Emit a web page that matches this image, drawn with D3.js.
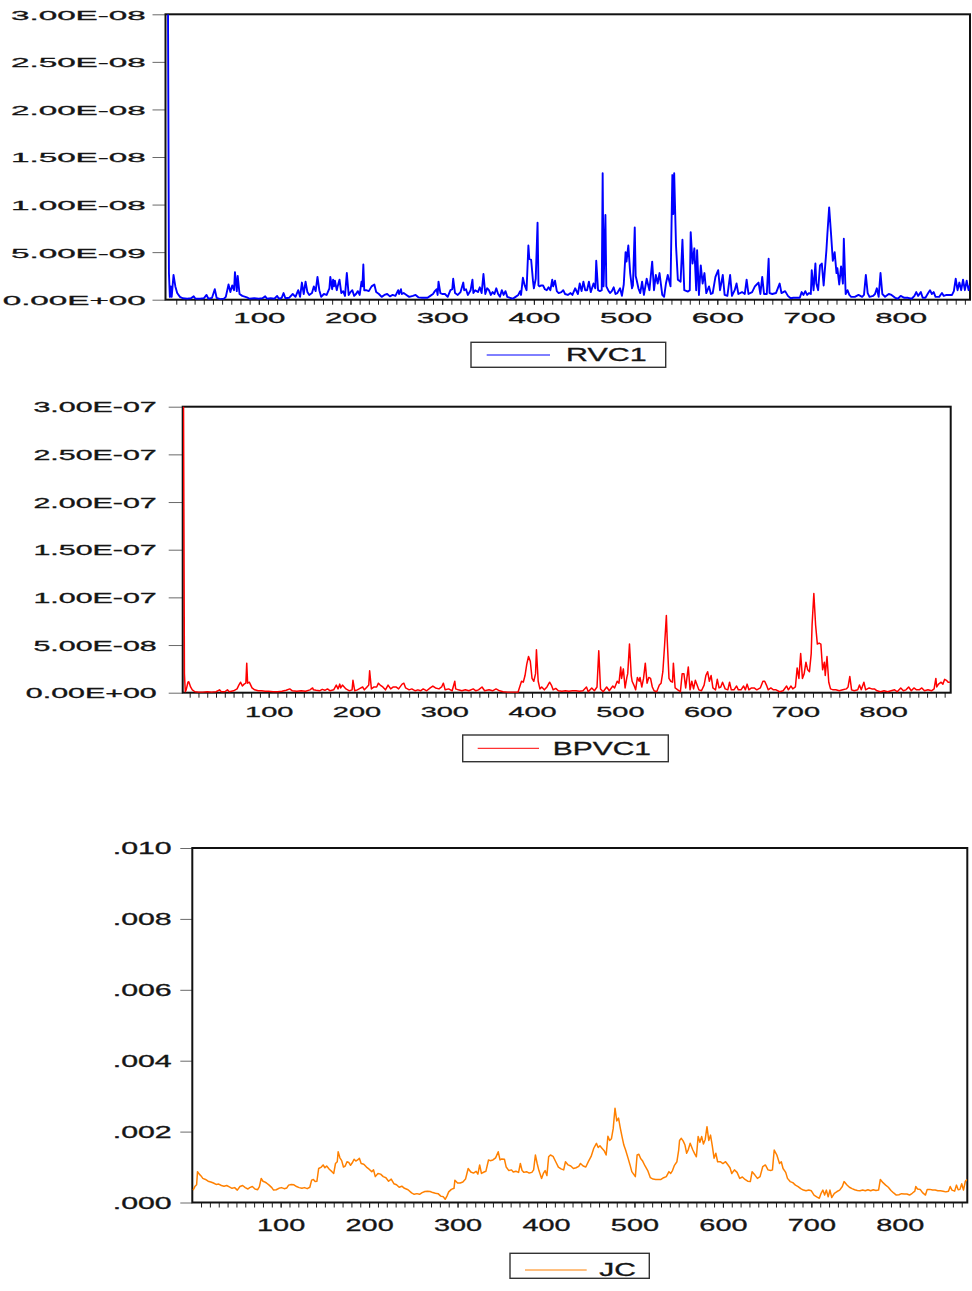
<!DOCTYPE html>
<html>
<head>
<meta charset="utf-8">
<script src="https://cdn.jsdelivr.net/npm/d3@7"></script>
<style>
    body { margin: 0; background: #fff; }
    svg text { font-family: "Liberation Sans", Arial, sans-serif; fill: #151515; stroke: #151515; stroke-width: 0.3px; }
</style>
</head>
<body>
<svg id="chart" width="972" height="1291"></svg>
<script>
// RVC1 values in units of 1e-9
const rvc1Unit = 1e-9;
const rvc1 = [[1,30],[2,2.8],[3,0.3],[4,1.4],[5,0.3],[7,2.6],[9,1.4],[11,0.7],[14,0.3],[17,0.15],[22,0.1],[26,0.15],[29,0.35],[31,0.1],[36,0.1],[40,0.15],[43,0.5],[45,0.1],[49,0.2],[52,1.1],[54,0.2],[58,0.05],[62,0.1],[64,0.3],[67,1.6],[69,0.8],[71,1.5],[73,1.0],[74,2.9],[76,0.9],[77,2.5],[79,0.6],[82,0.4],[87,0.25],[90,0.1],[95,0.15],[100,0.1],[104,0.15],[107,0.35],[109,0.1],[113,0.15],[117,0.1],[120,0.4],[122,0.1],[125,0.2],[127,0.7],[129,0.15],[133,0.2],[137,0.6],[140,0.3],[143,1.0],[145,0.3],[147,1.8],[149,0.6],[151,1.9],[153,0.8],[155,0.5],[158,0.7],[160,1.4],[162,0.9],[164,2.4],[166,1.0],[168,0.3],[171,0.6],[174,0.5],[177,1.2],[178,2.4],[180,1.1],[181,2.1],[182,1.4],[183,2.0],[185,1.0],[186,1.4],[188,2.1],[190,0.7],[192,0.9],[194,0.4],[196,2.8],[198,0.5],[200,0.8],[202,1.0],[204,0.4],[206,0.6],[208,0.9],[210,0.5],[212,1.9],[213,1.4],[214,3.7],[215,1.0],[217,1.0],[220,0.9],[223,1.4],[226,1.6],[228,0.8],[231,0.6],[234,0.3],[237,0.5],[240,0.6],[243,0.35],[246,0.5],[249,0.4],[252,1.0],[253,0.6],[255,1.1],[256,0.6],[258,0.7],[261,0.5],[264,0.3],[268,0.4],[271,0.5],[274,0.25],[278,0.2],[281,0.2],[284,0.2],[287,0.4],[290,0.6],[292,0.9],[294,1.1],[295,0.5],[296,1.9],[298,0.7],[300,0.6],[303,0.6],[306,0.3],[309,1.0],[311,1.1],[312,2.2],[314,0.7],[317,0.5],[320,0.8],[323,1.8],[324,1.0],[326,1.1],[328,0.5],[331,1.0],[333,2.1],[334,0.7],[336,1.0],[339,0.8],[341,1.3],[343,0.7],[345,2.7],[347,0.6],[349,1.2],[351,1.0],[353,0.5],[355,0.8],[357,0.6],[359,1.2],[361,0.6],[363,0.3],[365,1.0],[367,0.5],[369,0.9],[371,0.3],[374,0.2],[377,0.1],[380,0.3],[383,0.5],[385,0.9],[386,0.5],[388,2.3],[390,1.5],[392,1.0],[394,5.7],[395,4.3],[397,4.2],[399,2.0],[400,1.2],[402,2.2],[404,8.1],[405,1.5],[406,1.4],[408,1.5],[410,1.5],[412,1.1],[414,1.0],[416,1.3],[418,1.0],[420,2.1],[421,1.4],[423,2.0],[425,0.9],[427,0.7],[430,0.8],[432,1.0],[434,0.6],[437,0.5],[440,0.7],[442,0.5],[445,1.2],[448,0.6],[450,1.7],[452,0.9],[454,1.9],[456,1.0],[458,1.0],[460,1.9],[462,0.8],[465,1.7],[467,1.2],[468,4.1],[470,1.0],[472,0.9],[474,1.0],[475,13.3],[476,1.4],[478,8.9],[479,1.4],[481,1.0],[483,0.7],[485,0.9],[487,1.3],[489,0.6],[491,0.7],[494,1.2],[496,0.4],[498,1.6],[500,5.0],[501,4.0],[503,5.7],[505,2.8],[507,1.2],[508,1.5],[510,7.6],[511,2.5],[512,2.1],[514,1.2],[516,0.7],[518,1.9],[520,0.5],[523,2.2],[526,1.0],[529,4.0],[531,1.0],[533,2.6],[535,1.7],[537,2.8],[540,0.5],[542,0.3],[544,1.7],[546,2.6],[549,1.4],[551,13.1],[552,9.0],[553,13.3],[555,5.7],[557,2.1],[560,1.9],[562,6.3],[564,1.0],[568,0.85],[570,1.0],[571,7.1],[573,3.8],[575,5.4],[577,1.0],[578,5.2],[580,0.5],[582,3.6],[584,1.7],[586,2.8],[588,0.7],[591,1.4],[593,0.6],[595,0.7],[598,2.4],[601,3.1],[603,1.0],[606,2.6],[608,0.5],[611,0.4],[614,2.6],[616,0.4],[619,1.0],[621,1.7],[623,0.6],[627,0.8],[630,0.6],[632,2.1],[634,0.6],[638,0.8],[641,1.4],[643,1.6],[645,1.8],[647,0.6],[649,2.4],[651,0.6],[654,0.6],[656,4.3],[657,0.7],[660,0.6],[664,0.7],[666,1.2],[668,1.7],[670,0.7],[674,0.9],[677,0.4],[680,0.15],[683,0.2],[686,0.2],[690,0.2],[692,0.8],[694,0.5],[696,0.9],[698,0.5],[700,0.7],[702,0.6],[703,3.1],[705,1.0],[707,3.8],[708,1.7],[710,1.0],[712,3.6],[714,3.8],[716,1.5],[719,5.2],[720,6.8],[722,9.7],[724,7.0],[726,4.1],[728,5.0],[730,2.8],[731,3.3],[733,1.6],[735,3.5],[737,1.7],[738,6.4],[740,0.6],[742,1.0],[744,0.5],[746,0.3],[750,0.3],[754,0.5],[758,0.3],[760,0.5],[762,2.6],[764,0.7],[766,0.3],[770,0.4],[772,0.6],[774,1.2],[776,0.3],[778,2.8],[780,0.6],[783,0.3],[787,0.6],[790,0.5],[794,0.2],[797,0.1],[800,0.4],[804,0.2],[808,0.2],[812,0.1],[815,0.4],[817,0.8],[819,0.4],[822,0.8],[824,0.2],[827,0.2],[830,0.7],[832,1.0],[834,0.6],[836,0.8],[838,0.3],[842,0.3],[845,0.7],[847,0.4],[850,0.5],[853,0.5],[856,0.5],[858,0.9],[860,2.2],[862,1.0],[864,1.8],[866,1.0],[868,2.1],[870,1.0],[872,2.0],[874,1.0],[875,1.5]];

// BPVC1 values in units of 1e-8
const bpvc1Unit = 1e-8;
const bpvc1 = [[2,30],[3,30],[4,2.0],[5,0.1],[6,0.3],[8,1.1],[9,1.15],[11,0.6],[13,0.3],[16,0.1],[20,0.05],[25,0.05],[30,0.1],[35,0.05],[40,0.1],[44,0.3],[46,0.1],[50,0.1],[53,0.3],[55,0.1],[60,0.2],[64,0.4],[66,0.8],[68,1.1],[70,0.7],[72,0.9],[74,1.0],[75,3.1],[76,1.0],[78,1.1],[79,0.9],[81,0.5],[84,0.3],[88,0.2],[92,0.2],[96,0.15],[100,0.15],[105,0.1],[110,0.1],[115,0.15],[120,0.25],[124,0.4],[127,0.2],[132,0.15],[137,0.2],[142,0.15],[147,0.3],[150,0.5],[151,0.3],[154,0.25],[158,0.2],[161,0.35],[164,0.25],[167,0.4],[170,0.2],[174,0.3],[177,0.8],[179,0.4],[181,0.9],[182,0.5],[184,0.8],[186,0.6],[188,0.4],[192,0.2],[195,0.3],[196,1.3],[198,0.2],[201,0.3],[204,0.45],[207,0.6],[209,0.3],[212,0.6],[214,0.8],[215,2.3],[217,0.4],[220,0.6],[223,0.6],[225,1.0],[227,0.8],[230,0.6],[233,0.3],[236,0.8],[239,0.4],[242,0.6],[245,0.6],[248,0.4],[252,0.9],[254,1.0],[256,0.5],[260,0.3],[263,0.4],[267,0.2],[270,0.3],[273,0.2],[276,0.4],[280,0.2],[284,0.5],[287,0.7],[290,0.5],[294,0.4],[297,0.6],[299,1.0],[301,0.3],[305,0.4],[309,0.2],[312,1.2],[313,0.4],[316,0.3],[320,0.2],[324,0.3],[328,0.2],[333,0.4],[336,0.2],[339,0.3],[343,0.6],[346,0.2],[351,0.3],[355,0.2],[359,0.4],[363,0.2],[367,0.1],[372,0.05],[378,0.05],[384,0.05],[388,1.2],[390,1.1],[392,1.8],[394,3.0],[396,3.8],[398,3.3],[400,1.5],[402,1.2],[404,2.0],[405,4.5],[407,1.2],[409,0.4],[411,0.6],[414,0.3],[417,0.6],[420,1.1],[422,0.8],[424,0.3],[427,0.45],[430,0.2],[434,0.15],[438,0.2],[442,0.15],[446,0.2],[450,0.2],[454,0.15],[458,0.2],[462,0.6],[464,0.1],[468,0.5],[471,0.2],[474,0.6],[476,4.4],[478,0.4],[481,0.1],[485,0.6],[488,0.2],[492,0.7],[494,0.5],[497,1.2],[499,1.0],[501,2.7],[502,1.5],[504,2.5],[506,0.5],[508,1.6],[509,2.0],[511,5.1],[513,1.8],[514,1.2],[516,0.8],[518,0.3],[520,1.6],[522,1.2],[523,1.6],[525,0.6],[527,1.5],[529,3.1],[531,1.0],[533,1.6],[535,1.5],[537,0.6],[539,0.2],[542,0.1],[545,0.8],[547,1.0],[549,2.2],[551,5.0],[553,8.1],[554,5.5],[556,1.5],[558,1.2],[560,1.1],[561,3.1],[563,0.5],[566,0.3],[569,0.1],[571,2.0],[573,2.0],[575,0.5],[578,2.7],[580,0.3],[582,1.2],[584,0.4],[586,1.3],[588,0.8],[590,0.3],[593,0.2],[596,0.8],[598,1.8],[600,2.2],[602,1.2],[604,1.8],[606,0.5],[609,0.3],[611,1.4],[613,0.5],[615,0.6],[617,1.1],[620,0.4],[623,0.3],[625,1.1],[627,0.3],[630,0.3],[633,0.7],[635,0.3],[638,0.3],[641,0.7],[643,0.3],[645,0.9],[647,0.3],[650,0.5],[653,0.5],[656,0.3],[660,0.5],[663,1.2],[665,1.2],[667,0.8],[669,0.3],[672,0.5],[675,0.3],[678,0.3],[682,0.1],[686,0.2],[690,0.7],[692,0.3],[695,0.7],[697,0.4],[700,0.6],[702,2.6],[704,1.5],[706,4.1],[708,1.5],[710,2.0],[712,3.2],[714,2.4],[716,2.2],[718,4.1],[719,7.1],[721,10.4],[723,7.1],[725,5.1],[727,5.2],[729,5.1],[731,2.4],[733,3.2],[734,1.8],[736,3.8],[738,1.1],[740,0.4],[743,0.3],[746,0.3],[750,0.2],[754,0.3],[758,0.4],[760,0.6],[762,1.7],[764,0.3],[767,0.2],[771,0.3],[773,0.8],[775,0.3],[778,1.1],[780,0.3],[784,0.5],[787,0.4],[790,0.4],[793,0.2],[797,0.1],[801,0.2],[805,0.1],[809,0.2],[813,0.3],[816,0.1],[820,0.5],[823,0.2],[826,0.3],[829,0.6],[832,0.2],[835,0.5],[838,0.3],[841,0.3],[844,0.5],[847,0.2],[851,0.3],[855,0.2],[858,0.4],[860,1.5],[861,0.6],[863,0.9],[866,1.1],[868,0.9],[870,1.4],[872,1.3],[874,1.1],[876,1.1]];

// JC values in units of 1e-4
const jcUnit = 1e-4;
const jc = [[1,3.5],[3,4.5],[5,5.0],[6,8.7],[8,8.0],[10,7.5],[12,6.8],[15,6.5],[18,6.0],[21,5.8],[24,5.5],[27,5.1],[30,5.2],[33,4.8],[36,4.6],[39,4.8],[42,4.4],[45,4.0],[48,4.2],[51,3.5],[54,4.5],[57,4.8],[60,4.2],[63,3.8],[65,4.2],[68,4.5],[71,3.8],[74,3.6],[76,4.5],[78,6.8],[80,6.0],[82,5.8],[84,5.5],[87,4.9],[90,4.2],[92,3.5],[95,3.6],[98,4.0],[101,4.2],[104,3.9],[107,4.1],[109,4.9],[112,5.1],[115,5.0],[118,4.5],[121,4.2],[124,4.0],[127,4.2],[130,3.9],[133,4.3],[135,6.3],[137,6.5],[139,5.9],[141,6.0],[143,9.6],[146,10.0],[148,10.6],[150,9.8],[152,10.3],[155,9.4],[158,8.7],[160,8.2],[162,11.0],[164,11.5],[165,14.3],[167,12.6],[169,11.8],[171,10.0],[173,10.3],[175,11.5],[177,11.3],[179,10.5],[181,11.2],[183,12.2],[185,11.7],[187,12.0],[189,12.5],[191,11.0],[194,10.8],[197,10.0],[200,9.4],[203,8.7],[205,9.2],[207,7.3],[210,8.2],[213,8.0],[216,7.3],[219,7.0],[222,6.0],[225,6.6],[228,5.3],[231,5.0],[234,4.3],[237,4.6],[240,4.0],[244,3.6],[248,2.7],[251,2.3],[254,2.5],[257,2.3],[260,2.8],[263,3.1],[266,3.2],[269,3.1],[272,2.8],[275,2.6],[278,2.5],[281,1.8],[284,1.6],[286,0.9],[288,1.8],[290,3.0],[293,3.7],[296,4.0],[297,6.3],[300,5.5],[303,5.5],[306,5.8],[309,6.6],[312,9.6],[315,8.6],[318,8.3],[321,8.8],[323,8.0],[325,10.6],[327,8.2],[330,8.6],[332,8.8],[335,12.0],[337,11.8],[340,12.0],[343,12.6],[346,14.3],[348,12.0],[350,12.3],[353,12.2],[355,10.0],[358,9.0],[361,9.2],[363,8.6],[366,8.8],[369,8.5],[371,11.0],[373,9.0],[375,8.5],[378,8.7],[381,8.3],[384,8.5],[386,9.2],[388,13.4],[390,11.0],[392,9.0],[395,6.8],[397,8.2],[399,9.0],[401,7.6],[403,12.9],[405,13.4],[408,13.0],[411,11.5],[414,10.0],[417,9.5],[420,9.2],[422,11.5],[425,10.6],[428,10.3],[431,9.6],[434,9.8],[437,10.2],[439,11.0],[442,10.3],[445,10.0],[448,11.6],[451,13.0],[454,15.3],[457,16.7],[459,15.5],[461,16.0],[463,15.4],[466,14.5],[468,13.4],[470,18.7],[472,17.5],[474,18.0],[476,20.9],[478,26.6],[480,23.0],[482,23.8],[484,21.0],[486,18.5],[488,16.2],[490,14.8],[493,12.3],[495,10.6],[497,8.7],[499,8.0],[501,7.3],[503,13.4],[505,13.6],[507,12.4],[509,11.8],[512,10.3],[515,9.0],[518,7.0],[521,6.6],[524,6.5],[527,6.5],[530,6.5],[533,7.0],[536,7.3],[539,8.7],[541,8.2],[543,9.0],[545,10.4],[548,11.5],[550,14.8],[551,17.5],[553,18.1],[555,17.4],[557,16.3],[559,13.9],[561,15.0],[563,16.7],[566,14.8],[568,13.8],[570,12.9],[572,18.6],[574,17.0],[576,18.6],[578,16.5],[580,17.8],[582,21.4],[584,17.5],[586,19.0],[588,16.0],[590,12.5],[592,13.9],[594,11.5],[597,11.5],[600,11.0],[603,11.5],[606,10.5],[608,9.8],[610,8.2],[613,9.2],[616,8.5],[619,6.8],[622,7.2],[625,6.5],[628,6.0],[631,5.9],[633,8.7],[636,7.8],[639,6.8],[642,7.3],[645,10.1],[648,10.6],[651,9.2],[654,9.0],[656,9.2],[658,14.8],[661,13.4],[664,11.0],[666,11.5],[668,9.6],[671,8.5],[673,6.8],[676,5.9],[679,5.6],[682,4.9],[685,4.5],[688,3.9],[691,3.5],[694,3.3],[697,3.5],[700,3.3],[703,2.1],[706,1.6],[709,1.2],[711,2.6],[713,3.5],[715,2.1],[717,3.5],[719,1.6],[721,3.5],[723,1.4],[726,2.6],[729,3.1],[732,3.5],[735,4.5],[737,5.9],[740,5.0],[743,4.3],[746,3.9],[749,3.6],[752,3.4],[755,3.3],[758,3.5],[761,3.3],[764,3.6],[767,3.3],[770,3.6],[773,3.4],[776,3.5],[778,6.5],[781,5.6],[784,4.9],[787,4.3],[790,3.4],[793,2.7],[796,2.1],[799,2.2],[802,2.5],[805,2.4],[808,2.4],[811,2.1],[814,2.6],[817,3.2],[818,4.5],[820,3.8],[823,3.7],[826,2.7],[829,2.1],[831,3.7],[834,3.7],[837,3.5],[840,3.5],[843,3.3],[846,3.3],[849,3.2],[852,3.0],[855,3.2],[857,4.5],[859,3.5],[862,3.2],[864,4.9],[866,3.6],[868,3.7],[870,5.3],[872,3.5],[874,5.9],[876,6.5]];

// ---- axis ticks ----
const xMajorTicks = [100, 200, 300, 400, 500, 600, 700, 800];
const xMinorTicks = d3.range(10, 880, 10);
const rvcTickValues = [0, 5e-9, 1e-8, 1.5e-8, 2e-8, 2.5e-8, 3e-8];
const rvcTickLabels = ['0.00E+00', '5.00E-09', '1.00E-08', '1.50E-08', '2.00E-08', '2.50E-08', '3.00E-08'];
const bpvTickValues = [0, 5e-8, 1e-7, 1.5e-7, 2e-7, 2.5e-7, 3e-7];
const bpvTickLabels = ['0.00E+00', '5.00E-08', '1.00E-07', '1.50E-07', '2.00E-07', '2.50E-07', '3.00E-07'];
const jcTickValues = [0, 0.002, 0.004, 0.006, 0.008, 0.010];
const jcTickLabels = ['.000', '.002', '.004', '.006', '.008', '.010'];

class TimePanel {
    constructor(cfg) {
        this.cfg = cfg;
        this.drawPanel();
    }

    drawPanel() {
        const c = this.cfg;
        const svg = d3.select('#chart');
        const g = svg.append('g').attr('id', c.id);

        const x = d3.scaleLinear().domain(c.xDomain).range(c.xRange);
        const y = d3.scaleLinear().domain(c.yDomain).range([c.bottom, c.top]);

        svg.append('defs').append('clipPath').attr('id', c.id + '-clip')
            .append('rect')
            .attr('x', c.left).attr('y', c.top)
            .attr('width', c.right - c.left).attr('height', c.bottom - c.top);

        // y axis: ticks to the left, stretched labels
        const yAxis = d3.axisLeft(y)
            .tickValues(c.yTicks)
            .tickFormat((d, i) => c.yLabels[i])
            .tickSize(c.yTickLen);
        const yg = g.append('g').attr('transform', 'translate(' + c.left + ',0)').call(yAxis);
        yg.select('.domain').remove();
        yg.selectAll('.tick line').attr('stroke', '#6a6a6a');
        yg.selectAll('.tick text')
            .attr('x', null)
            .attr('dy', '0.36em')
            .attr('font-size', c.yFont)
            .attr('text-anchor', 'end')
            .attr('transform', 'translate(' + (-c.yGap) + ',0) scale(' + c.yStretch + ',1)');

        // x axis: minor ticks every 10, labelled ticks every 100
        const minorAxis = d3.axisBottom(x).tickValues(xMinorTicks).tickSize(5).tickFormat('');
        const mg = g.append('g').attr('transform', 'translate(0,' + c.bottom + ')').call(minorAxis);
        mg.select('.domain').remove();
        mg.selectAll('.tick line').attr('stroke', '#222');

        const majorAxis = d3.axisBottom(x).tickValues(xMajorTicks).tickSize(5).tickFormat(d3.format('d'));
        const xg = g.append('g').attr('transform', 'translate(0,' + c.bottom + ')').call(majorAxis);
        xg.select('.domain').remove();
        xg.selectAll('.tick line').attr('stroke', '#222');
        xg.selectAll('.tick text')
            .attr('y', null)
            .attr('dy', null)
            .attr('font-size', c.xFont)
            .attr('transform', 'translate(0,' + c.xBase + ') scale(' + c.xStretch + ',1)');

        // frame
        g.append('rect')
            .attr('x', c.left).attr('y', c.top)
            .attr('width', c.right - c.left).attr('height', c.bottom - c.top)
            .attr('fill', 'none')
            .attr('stroke', '#111')
            .attr('stroke-width', 2);

        // series (drawn over the frame, as in the original)
        const line = d3.line()
            .x(d => x(d[0]))
            .y(d => y(d[1] * c.unit));
        g.append('path')
            .datum(c.data)
            .attr('clip-path', 'url(#' + c.id + '-clip)')
            .attr('fill', 'none')
            .attr('stroke', c.color)
            .attr('stroke-width', c.lineWidth)
            .attr('stroke-linejoin', 'round')
            .attr('d', line);

        // legend
        const lg = c.legend;
        g.append('rect')
            .attr('x', lg.x0).attr('y', lg.y0)
            .attr('width', lg.x1 - lg.x0).attr('height', lg.y1 - lg.y0)
            .attr('fill', '#fff')
            .attr('stroke', '#333')
            .attr('stroke-width', 1.4);
        g.append('line')
            .attr('x1', lg.lx0).attr('x2', lg.lx1)
            .attr('y1', lg.ly).attr('y2', lg.ly)
            .attr('stroke', c.color)
            .attr('stroke-width', 1);
        g.append('text')
            .text(c.name)
            .attr('font-size', lg.font)
            .attr('transform', 'translate(' + lg.tx + ',' + lg.ty + ') scale(' + lg.stretch + ',1)');
    }
}

new TimePanel({
    id: 'rvc', name: 'RVC1', data: rvc1, unit: rvc1Unit, color: '#0000ff', lineWidth: 1.9,
    left: 165.5, right: 970, top: 14.3, bottom: 299.7,
    xDomain: [0, 875.6], xRange: [167.1, 970],
    yDomain: [0, 3e-8], yTicks: rvcTickValues, yLabels: rvcTickLabels,
    yTickLen: 13, yGap: 19.8, yFont: 13.5, yStretch: 2.46,
    xFont: 15.3, xStretch: 2.04, xBase: 23.5,
    legend: { x0: 471, y0: 342.3, x1: 665.7, y1: 367.3, lx0: 486.7, lx1: 550, ly: 355,
              tx: 566, ty: 361, font: 17.7, stretch: 1.72 }
});

new TimePanel({
    id: 'bpv', name: 'BPVC1', data: bpvc1, unit: bpvc1Unit, color: '#ff0000', lineWidth: 1.5,
    left: 182.7, right: 950.7, top: 406.7, bottom: 692.7,
    xDomain: [0, 876.9], xRange: [180.9, 950.7],
    yDomain: [0, 3e-7], yTicks: bpvTickValues, yLabels: bpvTickLabels,
    yTickLen: 14, yGap: 26, yFont: 14, yStretch: 2.17,
    xFont: 15, xStretch: 1.93, xBase: 24,
    legend: { x0: 462.7, y0: 735, x1: 668.3, y1: 761.7, lx0: 477.7, lx1: 539, ly: 748.3,
              tx: 552.7, ty: 755, font: 18.5, stretch: 1.62 }
});

new TimePanel({
    id: 'jc', name: 'JC', data: jc, unit: jcUnit, color: '#ff8000', lineWidth: 1.5,
    left: 192.3, right: 967.3, top: 848, bottom: 1202.5,
    xDomain: [0, 876.3], xRange: [192.2, 967.3],
    yDomain: [0, 0.010], yTicks: jcTickValues, yLabels: jcTickLabels,
    yTickLen: 12, yGap: 20.6, yFont: 16.3, yStretch: 1.86,
    xFont: 16.7, xStretch: 1.73, xBase: 28,
    legend: { x0: 510, y0: 1253.3, x1: 649.3, y1: 1278.3, lx0: 525, lx1: 586.7, ly: 1270,
              tx: 599.3, ty: 1276, font: 18.5, stretch: 1.62 }
});
</script>
</body>
</html>
